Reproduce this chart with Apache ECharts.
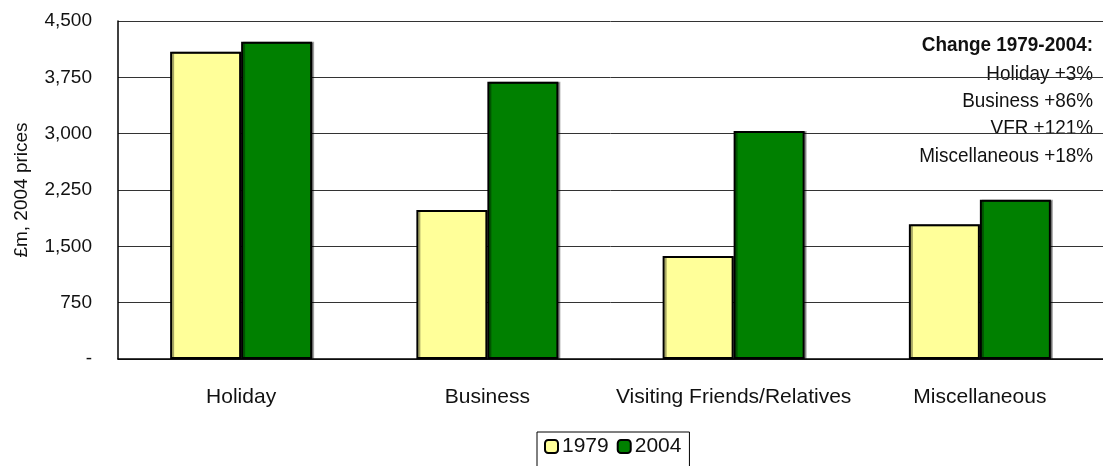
<!DOCTYPE html>
<html>
<head>
<meta charset="utf-8">
<script src="https://cdn.jsdelivr.net/npm/echarts@6/dist/echarts.min.js"></script>
<style>
  html, body { margin: 0; padding: 0; background: #fff; }
  #chart { width: 1103px; height: 466px; }
</style>
</head>
<body>
<div id="chart"></div>
<script>
// Spending by purpose of visit, £m at 2004 prices
const categories = ['Holiday', 'Business', 'Visiting Friends/Relatives', 'Miscellaneous'];
const values1979 = [4090, 1985, 1370, 1795];
const values2004 = [4225, 3690, 3035, 2120];
const yTicks = { min: 0, max: 4500, interval: 750 };
const changeNotes = [
  'Change 1979-2004:',
  'Holiday +3%',
  'Business +86%',
  'VFR +121%',
  'Miscellaneous +18%'
];

const FONT = '"Liberation Sans", Arial, sans-serif';

const chart = echarts.init(document.getElementById('chart'), null, { renderer: 'canvas' });

function barSeries(name, data, color) {
  return {
    name: name,
    type: 'bar',
    data: data,
    barWidth: 71,
    barGap: '0%',
    itemStyle: {
      color: color,
      borderColor: '#000',
      borderWidth: 2,
      shadowColor: 'rgba(0,0,0,0.35)',
      shadowOffsetX: 2,
      shadowOffsetY: 0,
      shadowBlur: 0
    },
    emphasis: { disabled: true },
    animation: false
  };
}

chart.setOption({
  backgroundColor: '#fff',
  animation: false,
  textStyle: { fontFamily: FONT },
  grid: {
    left: 118, right: 0, top: 21, bottom: 107,
    containLabel: false,
    outerBoundsMode: 'none'
  },
  xAxis: {
    type: 'category',
    data: categories,
    axisLine: { show: true, lineStyle: { color: '#000', width: 1.5 } },
    axisTick: { show: false },
    axisLabel: { color: '#111', fontSize: 21, fontFamily: FONT, margin: 28, interval: 0 }
  },
  yAxis: {
    type: 'value',
    min: yTicks.min,
    max: yTicks.max,
    interval: yTicks.interval,
    name: '£m, 2004 prices',
    nameLocation: 'middle',
    nameGap: 87,
    nameRotate: 90,
    nameTextStyle: { color: '#111', fontSize: 19, fontFamily: FONT },
    axisLine: { show: true, lineStyle: { color: '#000', width: 1.5 } },
    axisTick: { show: false },
    axisLabel: {
      color: '#111',
      fontSize: 19,
      fontFamily: FONT,
      margin: 26,
      formatter: function (v) { return v === 0 ? '-' : v.toLocaleString('en-GB'); }
    },
    splitLine: { show: true, lineStyle: { color: '#333', width: 1 } }
  },
  legend: {
    data: ['1979', '2004'],
    left: 537,
    top: 432,
    padding: [4, 8, 10, 7],
    itemGap: 8,
    itemWidth: 13,
    itemHeight: 13,
    borderColor: '#000',
    borderWidth: 1,
    textStyle: { color: '#111', fontSize: 21, fontFamily: FONT, padding: [0, 0, 0, -1] },
    selectedMode: false
  },
  series: [
    barSeries('1979', values1979, '#FFFF99'),
    barSeries('2004', values2004, '#008000')
  ],
  graphic: [{
    type: 'group',
    z: 100,
    children: [
      {
        type: 'rect',
        shape: { x: 836, y: 30, width: 258, height: 143 },
        style: { fill: '#fff' }
      }
    ].concat(changeNotes.map(function (t, i) {
      return {
        type: 'text',
        x: 1093,
        y: [45, 74, 101, 128, 156][i],
        scaleX: 0.9,
        style: {
          text: t,
          x: 0,
          y: 0,
          align: 'right',
          verticalAlign: 'middle',
          fill: '#111',
          font: (i === 0 ? '600 ' : '') + '21px ' + FONT
        }
      };
    }))
  }]
});
</script>
</body>
</html>
